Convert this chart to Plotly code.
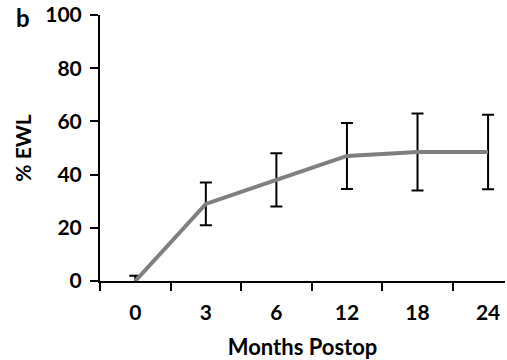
import plotly.graph_objects as go

months = ["0", "3", "6", "12", "18", "24"]
ewl = [0, 29, 38, 47, 48.5, 48.5]
err = [2, 8, 10, 12.4, 14.5, 14]
yticks = [0, 20, 40, 60, 80, 100]

FONT = "Lato"
TS = 21

fig = go.Figure()
fig.add_trace(go.Scatter(
    x=months, y=ewl, mode="lines",
    line=dict(color="#7f7f7f", width=4),
    error_y=dict(type="data", array=err, visible=True, color="black", thickness=2, width=6),
    showlegend=False,
))

fig.update_layout(
    width=507, height=360,
    margin=dict(l=100, r=2, t=15, b=79),
    plot_bgcolor="white", paper_bgcolor="white",
    font=dict(family=FONT, color="black", size=TS, weight="bold"),
    xaxis=dict(
        type="category", range=[-0.5, 5.24], showline=True, linecolor="black", linewidth=2,
        ticks="outside", ticklen=8, tickwidth=2, tickcolor="black", tickson="boundaries",
        showgrid=False, zeroline=False, ticklabelstandoff=12,
        tickfont=dict(family=FONT, size=TS, weight="bold"),
        title=dict(text="Months Postop", font=dict(family=FONT, size=22, weight="bold"), standoff=16),
    ),
    yaxis=dict(
        range=[0, 100], tickvals=yticks, showline=True, linecolor="black", linewidth=2,
        ticks="outside", ticklen=8, tickwidth=2, tickcolor="black",
        showgrid=False, zeroline=False, ticklabelstandoff=4,
        tickfont=dict(family=FONT, size=TS, weight="bold"),
        title=dict(text="% EWL", font=dict(family=FONT, size=21, weight="bold"), standoff=8),
    ),
    annotations=[dict(text="b", x=(23 - 100) / 405, y=(281 - 18) / 266,
                      xref="paper", yref="paper", xanchor="center", yanchor="middle",
                      showarrow=False, font=dict(family=FONT, size=24, weight="bold"))],
)

fig.write_html("out.html")
